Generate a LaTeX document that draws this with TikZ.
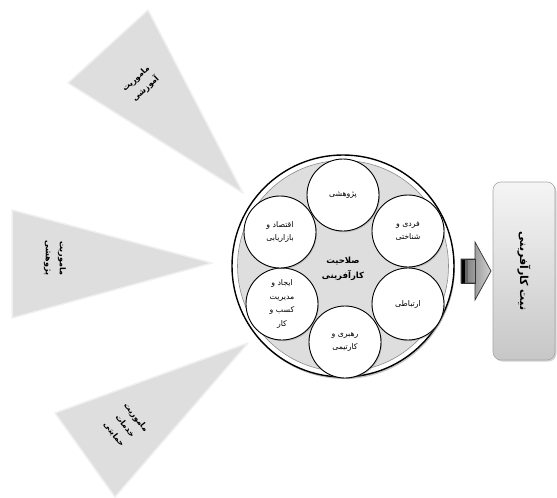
\documentclass[tikz,border=0pt]{standalone}
\usepackage{fontspec}
\newfontfamily\arabicfont[Script=Arabic]{DejaVu Sans}
\TeXXeTstate=1
\usetikzlibrary{shadows}
\newcommand{\ar}[1]{\beginR #1\endR}
\begin{document}
\begin{tikzpicture}[x=1pt,y=-1pt,
  tri/.style={fill=black!13, draw=black!6, line width=1.5pt, line join=round},
  tritext/.style={font=\arabicfont\bfseries\fontsize{8}{14}\selectfont, align=center, inner sep=0pt},
  small/.style={circle, draw=black, line width=0.9pt, fill=white, minimum size=72pt, inner sep=0pt,
     align=center, font=\arabicfont\fontsize{7.8}{13.5}\selectfont,
     drop shadow={opacity=0.35, shadow xshift=1pt, shadow yshift=-1.2pt}},
  centertext/.style={align=center, font=\arabicfont\bfseries\fontsize{8.5}{15}\selectfont, inner sep=0pt},
  boxstyle/.style={rounded corners=8pt, draw=black!35, line width=0.6pt, top color=black!4, bottom color=black!22,
     drop shadow={opacity=0.35, shadow xshift=1.5pt, shadow yshift=-1.5pt}},
  arrowstyle/.style={draw=black!80, line width=0.7pt, left color=black!55, right color=black!18, line join=miter}
]
\useasboundingbox (0,0) rectangle (557,498);

% triangles
\path[tri] (148,10) -- (68,83) -- (243,193) -- cycle;
\path[tri] (12,210) -- (12,318) -- (212,263) -- cycle;
\path[tri] (248,343) -- (55,413) -- (115,497) -- cycle;

\node[tritext, rotate=43] (t1) at (141,84) {\ar{ماموریت}\\\ar{آموزشی}};
\node[tritext, rotate=-90] (t2) at (55,258) {\ar{ماموریت}\\\ar{پژوهشی}};
\node[tritext, rotate=-52] (t3) at (125,426) {\ar{ماموریت}\\\ar{خدمات}\\\ar{حمایتی}};

% big circle
\node[circle, draw=black, line width=1.4pt, fill=white, minimum size=222pt, inner sep=0pt,
      drop shadow={opacity=0.45, shadow xshift=1pt, shadow yshift=-2pt}] (big) at (343,266) {};
\node[circle, draw=black!45, line width=0.6pt, fill=black!13, minimum size=211pt, inner sep=0pt] (inner) at (343,266) {};

% small circles
\node[small] (c1) at (343,195) {\ar{پژوهشی}};
\node[small] (c2) at (408,231) {\ar{فردی و}\\\ar{شناختی}};
\node[small] (c3) at (408,304) {\ar{ارتباطی}};
\node[small] (c4) at (345,342) {\ar{رهبری و}\\\ar{کارتیمی}};
\node[small] (c5) at (282,304) {\ar{ایجاد و}\\\ar{مدیریت}\\\ar{کسب و}\\\ar{کار}};
\node[small] (c6) at (280,232) {\ar{اقتصاد و}\\\ar{بازاریابی}};

\node[centertext] (ctr) at (343,269) {\ar{صلاحیت}\\\ar{کارآفرینی}};

% arrow
\path[arrowstyle] (461,259) -- (475,259) -- (475,242) -- (491,271) -- (475,300) -- (475,283) -- (461,283) -- cycle;
\fill[black] (461,259) rectangle (465,283);
\fill[black!60] (465,259) rectangle (467.5,283);
\draw[black!80, line width=0.7pt] (461,259) rectangle (475,283);

% box
\path[boxstyle] (493,182) rectangle (555,360);
\node[font=\arabicfont\bfseries\fontsize{11}{13}\selectfont, rotate=-90, inner sep=0pt] (goal) at (524,271) {\ar{نیت کارآفرینی}};
\end{tikzpicture}
\end{document}
